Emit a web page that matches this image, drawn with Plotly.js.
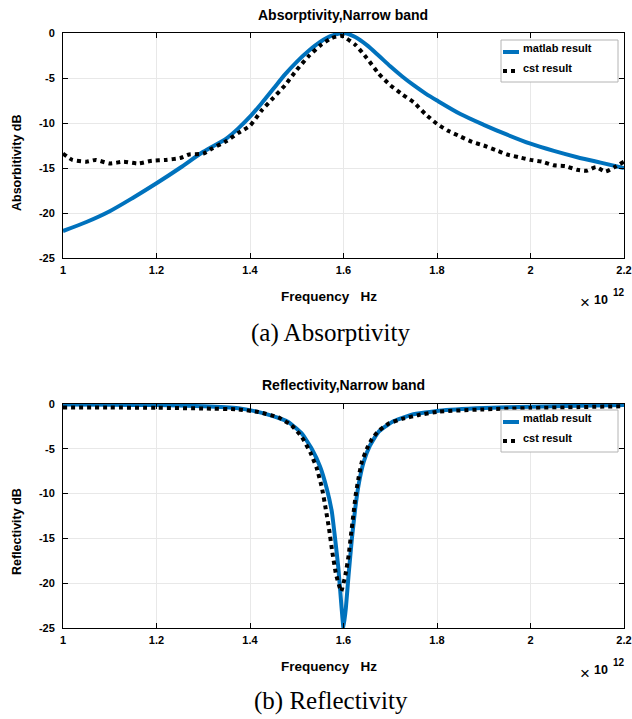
<!DOCTYPE html>
<html>
<head>
<meta charset="utf-8">
<script src="https://cdn.plot.ly/plotly-3.0.1.min.js"></script>
<style>html,body{margin:0;padding:0;background:#fff;}#chart{width:632px;height:719px;}</style>
</head>
<body>
<div id="chart"></div>
<script>
// Frequency in units of 10^12 Hz
const absMatlabFreq = [1.0,1.05,1.1,1.15,1.2,1.25,1.3,1.35,1.375,1.4,1.425,1.45,1.475,1.5,1.525,1.55,1.575,1.6,1.625,1.65,1.675,1.7,1.725,1.75,1.775,1.8,1.85,1.9,1.95,2.0,2.05,2.1,2.15,2.2];
const absMatlabDb   = [-22.0,-21.0,-19.8,-18.3,-16.7,-15.0,-13.2,-11.7,-10.6,-9.3,-7.8,-6.2,-4.6,-3.2,-2.0,-1.0,-0.3,0,-0.45,-1.35,-2.5,-3.7,-4.8,-5.8,-6.7,-7.5,-9.0,-10.2,-11.3,-12.3,-13.1,-13.8,-14.4,-15.0];

const absCstFreq = [1.0,1.02,1.05,1.07,1.1,1.13,1.16,1.19,1.22,1.25,1.27,1.3,1.32,1.35,1.375,1.4,1.425,1.45,1.475,1.5,1.525,1.55,1.575,1.595,1.625,1.65,1.675,1.7,1.725,1.75,1.775,1.8,1.825,1.85,1.875,1.9,1.925,1.95,1.975,2.0,2.025,2.05,2.075,2.1,2.12,2.14,2.16,2.18,2.2];
const absCstDb   = [-13.4,-14.1,-14.3,-14.1,-14.5,-14.3,-14.5,-14.2,-14.1,-13.9,-13.5,-13.4,-12.8,-12.0,-11.1,-10.3,-8.6,-7.2,-5.8,-4.1,-2.6,-1.4,-0.55,-0.3,-1.3,-2.8,-4.5,-5.8,-6.8,-7.7,-9.0,-10.1,-10.9,-11.5,-12.1,-12.5,-13.0,-13.5,-13.8,-14.1,-14.3,-14.7,-14.8,-15.2,-15.3,-14.9,-15.4,-14.9,-14.3];

const refMatlabFreq = [1.0,1.1,1.2,1.3,1.375,1.41,1.446,1.482,1.511,1.532,1.55,1.564,1.575,1.582,1.589,1.596,1.6,1.605,1.611,1.618,1.625,1.632,1.643,1.657,1.675,1.704,1.746,1.804,1.9,2.0,2.1,2.2];
const refMatlabDb   = [-0.05,-0.08,-0.12,-0.25,-0.48,-0.8,-1.3,-2.0,-3.3,-5.0,-7.0,-9.4,-12.0,-15.0,-18.3,-22.8,-25.0,-22.8,-19.0,-15.0,-11.7,-9.1,-6.5,-4.6,-3.1,-2.0,-1.2,-0.75,-0.45,-0.3,-0.2,-0.12];

const refCstFreq = [1.0,1.1,1.2,1.3,1.375,1.418,1.461,1.489,1.511,1.529,1.543,1.554,1.562,1.569,1.576,1.584,1.595,1.604,1.611,1.616,1.621,1.626,1.632,1.639,1.65,1.661,1.675,1.696,1.725,1.761,1.804,1.9,2.0,2.1,2.2];
const refCstDb   = [-0.4,-0.4,-0.42,-0.5,-0.6,-0.9,-1.5,-2.4,-3.7,-5.4,-7.2,-9.4,-11.7,-13.9,-16.5,-19.0,-20.9,-19.1,-16.9,-14.6,-12.4,-10.2,-8.3,-6.5,-5.0,-3.9,-3.0,-2.2,-1.67,-1.22,-0.85,-0.6,-0.45,-0.35,-0.25];

const xTickVals = [1,1.2,1.4,1.6,1.8,2,2.2];
const xTickText = ['1','1.2','1.4','1.6','1.8','2','2.2'];
const yTickVals = [0,-5,-10,-15,-20,-25];
const yTickText = ['0','-5','-10','-15','-20','-25'];
const seriesNames = ['matlab result','cst result'];

const W = 632, H = 719;
const px = x => x / W;
const py = y => 1 - y / H;

const BLUE = '#0072BD';
const FONT = 'Liberation Sans, Arial, sans-serif';
const SERIF = 'Liberation Serif, Times New Roman, serif';
const tickFont = {family: FONT, size: 11, color: '#000', weight: 'bold'};

function mkX(anchor){
  return {
    domain:[px(63), px(624)], range:[1,2.2], anchor: anchor,
    tickvals: xTickVals, ticktext: xTickText, tickfont: tickFont,
    showline:true, linecolor:'#000', linewidth:1, mirror:'ticks',
    ticks:'inside', ticklen:5, tickcolor:'#000', ticklabelstandoff:2,
    showgrid:true, gridcolor:'#e8e8e8', gridwidth:1, zeroline:false
  };
}
function mkY(anchor, dom){
  return {
    domain: dom, range:[-25,0], anchor: anchor,
    tickvals: yTickVals, ticktext: yTickText, tickfont: tickFont,
    showline:true, linecolor:'#000', linewidth:1, mirror:'ticks',
    ticks:'inside', ticklen:5, tickcolor:'#000', ticklabelstandoff:5,
    showgrid:true, gridcolor:'#e8e8e8', gridwidth:1, zeroline:false
  };
}

const data = [
  {x:absMatlabFreq, y:absMatlabDb, xaxis:'x', yaxis:'y', mode:'lines', name:seriesNames[0], line:{color:BLUE,width:4,shape:'spline',smoothing:0.8}, showlegend:false},
  {x:absCstFreq, y:absCstDb, xaxis:'x', yaxis:'y', mode:'lines', name:seriesNames[1], line:{color:'#000',width:4,dash:'dot',shape:'spline',smoothing:0.5}, showlegend:false},
  {x:refMatlabFreq, y:refMatlabDb, xaxis:'x2', yaxis:'y2', mode:'lines', name:seriesNames[0], line:{color:BLUE,width:4,shape:'spline',smoothing:0.4}, showlegend:false},
  {x:refCstFreq, y:refCstDb, xaxis:'x2', yaxis:'y2', mode:'lines', name:seriesNames[1], line:{color:'#000',width:4,dash:'dot',shape:'spline',smoothing:0.4}, showlegend:false}
];

function txt(text, x, y, size, opts){
  return Object.assign({text:text, xref:'paper', yref:'paper', x:px(x), y:py(y), xanchor:'center', yanchor:'middle', showarrow:false,
    font:{family:FONT,size:size,color:'#000',weight:'bold'}}, opts || {});
}

// manual legends (box + samples + labels), top legend at dy=0, bottom at dy=370
const shapes = [];
const annotations = [];
[0, 370].forEach(dy => {
  shapes.push({type:'rect', xref:'paper', yref:'paper', x0:px(501), x1:px(618), y0:py(40+dy), y1:py(82+dy), fillcolor:'#fff', line:{color:'#b4b4b4', width:1}, layer:'above'});
  shapes.push({type:'line', xref:'paper', yref:'paper', x0:px(503), x1:px(519), y0:py(52+dy), y1:py(52+dy), line:{color:BLUE, width:4}, layer:'above'});
  shapes.push({type:'line', xref:'paper', yref:'paper', x0:px(503), x1:px(519), y0:py(71+dy), y1:py(71+dy), line:{color:'#000', width:4, dash:'dot'}, layer:'above'});
  annotations.push(txt(seriesNames[0], 521, 48+dy, 11, {xanchor:'left'}));
  annotations.push(txt(seriesNames[1], 521, 68+dy, 11, {xanchor:'left'}));
  annotations.push(txt('Frequency\u00a0\u00a0\u00a0Hz', 329, 296+dy, 13.5));
  annotations.push(txt('\u00d7', 585, 303+dy, 17, {font:{family:FONT,size:17,color:'#000'}}));
  annotations.push(txt('10', 592, 300+dy, 12.5, {xanchor:'left'}));
  annotations.push(txt('12', 611, 292+dy, 10, {xanchor:'left'}));
});
annotations.push(txt('Absorptivity,Narrow band', 343, 15, 14));
annotations.push(txt('Reflectivity,Narrow band', 343, 385, 14));
annotations.push(txt('Absorbitivity dB', 17, 163, 12.5, {textangle:-90}));
annotations.push(txt('Reflectivity dB', 17, 532, 12.5, {textangle:-90}));
annotations.push(txt('(a) Absorptivity', 331, 333, 25, {font:{family:SERIF,size:25,color:'#000'}}));
annotations.push(txt('(b) Reflectivity', 331, 701, 25, {font:{family:SERIF,size:25,color:'#000'}}));

const layout = {
  width: W, height: H,
  margin:{l:0,r:0,t:0,b:0},
  paper_bgcolor:'#fff', plot_bgcolor:'#fff',
  showlegend:false,
  xaxis: mkX('y'),
  yaxis: mkY('x', [py(258), py(33)]),
  xaxis2: mkX('y2'),
  yaxis2: mkY('x2', [py(628), py(404)]),
  shapes: shapes,
  annotations: annotations
};

Plotly.newPlot('chart', data, layout, {displayModeBar:false, staticPlot:true});
</script>
</body>
</html>
